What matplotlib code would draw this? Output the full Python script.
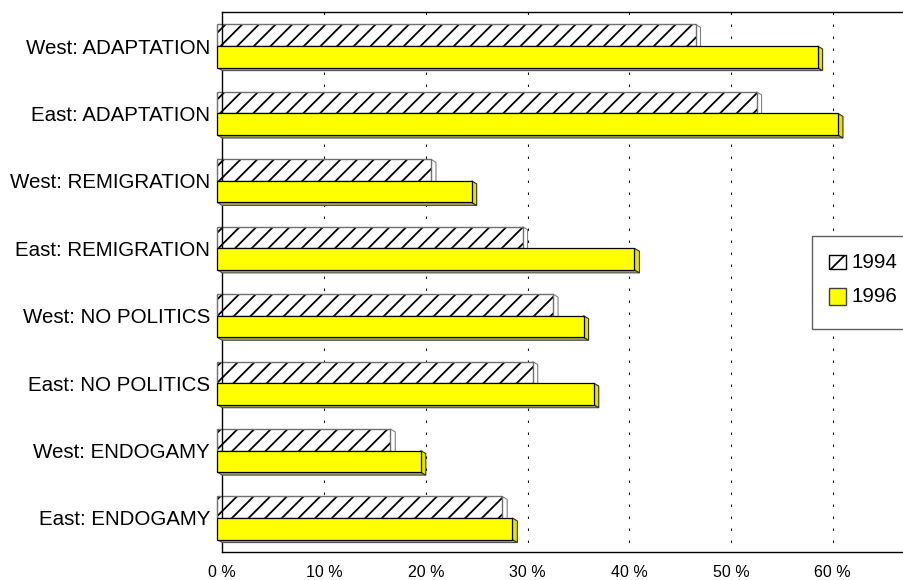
import matplotlib
matplotlib.use("Agg")
import matplotlib.pyplot as plt
from matplotlib.patches import Polygon, Rectangle

plt.rcParams['font.family'] = ['Liberation Sans', 'DejaVu Sans']
plt.rcParams['hatch.linewidth'] = 1.3

categories = ["West: ADAPTATION", "East: ADAPTATION", "West: REMIGRATION", "East: REMIGRATION",
              "West: NO POLITICS", "East: NO POLITICS", "West: ENDOGAMY", "East: ENDOGAMY"]
v1994 = [47, 53, 21, 30, 33, 31, 17, 28]
v1996 = [59, 61, 25, 41, 36, 37, 20, 29]
series_labels = ["1994", "1996"]
xticks = [0, 10, 20, 30, 40, 50, 60]
xtick_labels = ["0 %", "10 %", "20 %", "30 %", "40 %", "50 %", "60 %"]

W, H = 904, 580
fig = plt.figure(figsize=(W / 100, H / 100), dpi=100)
left, right, top, bottom = 222.3, 904, 12.3, 551.7
ax = fig.add_axes([left / W, 1 - bottom / H, (right - left) / W, (bottom - top) / H])
ax.set_xlim(0, 67)
ax.set_ylim(len(categories) - 0.5, -0.5)

# grid
ax.vlines(xticks[1:], -0.5, len(categories) - 0.5, colors='black', linewidth=0.8,
          linestyles=[(0, (2.2, 8.6))], zorder=0.5)

h = 0.32
dx = 5 / 10.183          # depth in % units
dy = 3 / 67.425          # depth in category units

def draw_bar(yc, v, front_kw, side_fc, side_ec, bottom_fc, bottom_ec, z):
    topy = yc - h / 2
    boty = yc + h / 2
    ax.add_patch(Polygon([(-dx, boty), (v - dx, boty), (v, boty + dy), (0, boty + dy)],
                         closed=True, facecolor=bottom_fc, edgecolor=bottom_ec, linewidth=0.8,
                         zorder=z, clip_on=False))
    ax.add_patch(Polygon([(v - dx, topy), (v, topy + dy), (v, boty + dy), (v - dx, boty)],
                         closed=True, facecolor=side_fc, edgecolor=side_ec, linewidth=0.8,
                         zorder=z, clip_on=False))
    ax.barh([yc], [v], left=[-dx], height=h, align='center', zorder=z + 0.1,
            clip_on=False, **front_kw)

for i, cat in enumerate(categories):
    yc94 = i - h / 2
    yc96 = i + h / 2
    draw_bar(yc94, v1994[i], dict(color='white', edgecolor='black', hatch='//', linewidth=0),
             'white', '#808080', '#c0c0c0', '#808080', 2)
    ax.barh([yc94], [v1994[i]], left=[-dx], height=h, align='center', fill=False,
            edgecolor='#707070', linewidth=1.0, zorder=2.2, clip_on=False)
    draw_bar(yc96, v1996[i], dict(color='#ffff00', edgecolor='black', linewidth=0.9),
             '#e4e400', '#303030', '#a8a860', '#505050', 3)

ax.set_yticks(range(len(categories)))
ax.set_yticklabels(categories, fontsize=14.8)
ax.tick_params(axis='y', length=0, pad=8.8)
ax.set_xticks(xticks)
ax.set_xticklabels(xtick_labels, fontsize=11.5)
ax.tick_params(axis='x', length=0, pad=9.5)

for s in ['left', 'top', 'bottom']:
    ax.spines[s].set_linewidth(1.0)
    ax.spines[s].set_color('black')
ax.spines['right'].set_visible(False)

def fpx(x, y):
    return (x / W, 1 - y / H)

def frect(x0, y0, x1, y1, **kw):
    r = Rectangle(fpx(x0, y1), (x1 - x0) / W, (y1 - y0) / H, transform=fig.transFigure, **kw)
    fig.add_artist(r)

frect(812, 236, 912, 329, facecolor='white', edgecolor='#606060', linewidth=1.0, zorder=5)
frect(829, 255, 846, 269, facecolor='white', edgecolor='black', hatch='/', linewidth=1.0, zorder=6)
frect(829, 288, 846, 305, facecolor='#ffff00', edgecolor='#404040', linewidth=1.0, zorder=6)
fig.text(*fpx(852, 262), series_labels[0], fontsize=14.8, va='center', ha='left', zorder=7)
fig.text(*fpx(852, 296.5), series_labels[1], fontsize=14.8, va='center', ha='left', zorder=7)

fig.savefig("out.png", dpi=100)
